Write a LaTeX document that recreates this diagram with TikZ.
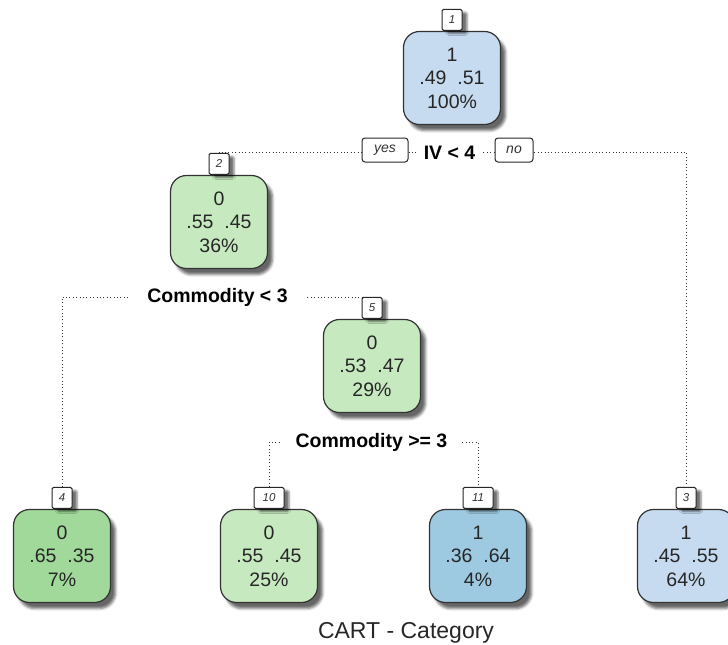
\documentclass[tikz,border=0pt]{standalone}
\usepackage{fontspec}
\setmainfont{Liberation Sans}
\usetikzlibrary{shadows.blur,calc}
\definecolor{bluelt}{RGB}{198,219,239}
\definecolor{bluemd}{RGB}{158,202,225}
\definecolor{greenlt}{RGB}{199,233,192}
\definecolor{greenmd}{RGB}{161,217,155}
\begin{document}
\begin{tikzpicture}[x=1pt,y=-1pt,
  leaf/.style={draw=black!80, line width=1.2pt, rounded corners=16pt,
    minimum width=97pt, minimum height=93pt, align=center, inner sep=0pt,
    font=\fontsize{19.5}{23.5}\selectfont, text=black!85,
    blur shadow={shadow xshift=5pt, shadow yshift=-6pt, shadow opacity=60, shadow blur radius=2.5pt}},
  tag/.style={draw=black!85, fill=white, line width=1pt, rounded corners=1.5pt,
    minimum width=20pt, minimum height=21pt, inner sep=0pt, anchor=south,
    font=\fontsize{11.5}{12}\selectfont\itshape, text=black!80,
    blur shadow={shadow xshift=5pt, shadow yshift=-3pt, shadow opacity=55, shadow blur radius=2pt}},
  widetag/.style={tag, minimum width=30pt},
  dotline/.style={draw=black!80, line width=1pt, dash pattern=on 1pt off 2.4pt},
  splittext/.style={fill=white, inner ysep=2pt, font=\fontsize{19.5}{22}\selectfont\bfseries, text=black},
  yesno/.style={draw=black!85, fill=white, line width=1pt, rounded corners=3pt,
    minimum height=24pt, inner sep=0pt, font=\fontsize{14}{16}\selectfont\itshape, text=black!80}
]
\useasboundingbox (0,0) rectangle (728,645);

% tree nodes
\node[leaf, fill=bluelt]  (n1)  at (452,78)  {1\\.49\ \ .51\\100\%};
\node[leaf, fill=greenlt] (n2)  at (219,222) {0\\.55\ \ .45\\36\%};
\node[leaf, fill=greenlt] (n5)  at (372,366) {0\\.53\ \ .47\\29\%};
\node[leaf, fill=greenmd] (n4)  at (62,556)  {0\\.65\ \ .35\\7\%};
\node[leaf, fill=greenlt] (n10) at (269,556) {0\\.55\ \ .45\\25\%};
\node[leaf, fill=bluemd]  (n11) at (478,556) {1\\.36\ \ .64\\4\%};
\node[leaf, fill=bluelt]  (n3)  at (686,556) {1\\.45\ \ .55\\64\%};

% node number tags
\node[tag] (t1) at (n1.north) {1};
\node[tag] (t2) at (n2.north) {2};
\node[tag] (t5) at (n5.north) {5};
\node[tag] (t4) at (n4.north) {4};
\node[widetag] (t10) at (n10.north) {10};
\node[widetag] (t11) at (n11.north) {11};
\node[tag] (t3) at (n3.north) {3};

% split connectors
\coordinate (s1) at (452,152);
\coordinate (s2) at (217,297);
\coordinate (s3) at (372,442);
\draw[dotline] (t2.north) |- (s1) -| (t3.north);
\draw[dotline] (t4.north) |- (s2) -| (t5.north);
\draw[dotline] (t10.north) |- (s3) -| (t11.north);

% split labels
\node[splittext, inner xsep=7pt]  (c1) at (449.5,153) {IV < 4};
\node[yesno, minimum width=46pt] (yes) at (385,150) {yes};
\node[yesno, minimum width=38pt] (no)  at (514,150) {no};
\node[splittext, inner xsep=19pt] (c2) at (217.5,297) {Commodity < 3};
\node[splittext, inner xsep=15pt] (c3) at (371.5,442) {Commodity >= 3};

% title
\node[anchor=base, font=\fontsize{23}{26}\selectfont, text=black!85] (title) at (406,638) {CART - Category};
\end{tikzpicture}
\end{document}
